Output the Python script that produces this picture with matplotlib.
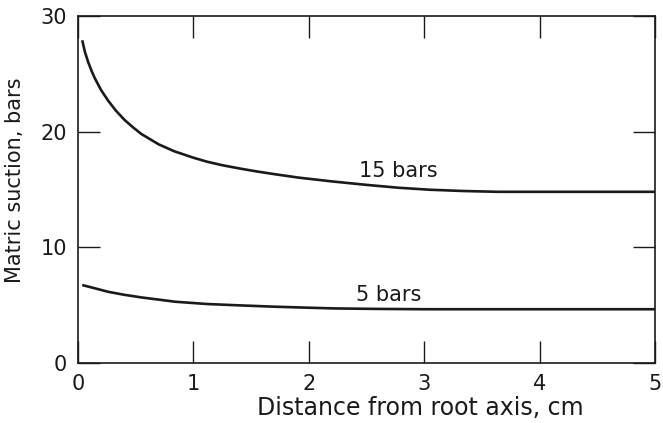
import matplotlib.pyplot as plt

plt.rcParams['font.family'] = ['DejaVu Sans']

# curves
dist15 = [0.037, 0.06, 0.089, 0.12, 0.147, 0.2, 0.26, 0.33, 0.405, 0.48, 0.549, 0.7, 0.836,
          1.0, 1.12, 1.25, 1.41, 1.55, 1.70, 1.91, 2.2, 2.5, 2.78, 3.05, 3.34, 3.64, 4.0, 4.5, 5.0]
suction15 = [27.9, 26.9, 26.0, 25.2, 24.6, 23.6, 22.7, 21.8, 21.0, 20.35, 19.8, 18.9, 18.3,
             17.75, 17.4, 17.1, 16.8, 16.56, 16.33, 16.03, 15.7, 15.4, 15.15, 14.98, 14.87, 14.8, 14.8, 14.8, 14.8]
dist5 = [0.037, 0.15, 0.26, 0.4, 0.55, 0.7, 0.84, 1.12, 1.41, 1.70, 2.0, 2.22, 2.56, 3.0, 4.0, 5.0]
suction5 = [6.74, 6.45, 6.16, 5.9, 5.67, 5.48, 5.3, 5.1, 4.98, 4.87, 4.78, 4.72, 4.68, 4.65, 4.65, 4.65]

xticks = [0, 1, 2, 3, 4, 5]
yticks = [0, 10, 20, 30]

ink = '#1a1a1a'

fig = plt.figure(figsize=(6.63, 4.23), dpi=100)
ax = fig.add_axes([0.1176, 0.1418, 0.8703, 0.8204])

ax.plot(dist15, suction15, color=ink, lw=1.9, solid_capstyle='butt', solid_joinstyle='round')
ax.plot(dist5, suction5, color=ink, lw=1.9, solid_capstyle='butt', solid_joinstyle='round')

ax.text(2.78, 16.1, '15 bars', fontsize=15, ha='center', va='baseline', color=ink)
ax.text(2.69, 5.4, '5 bars', fontsize=15, ha='center', va='baseline', color=ink)

ax.set_xlim(0, 5)
ax.set_ylim(0, 30)
ax.set_xticks(xticks)
ax.set_yticks(yticks)
ax.tick_params(direction='in', length=16, width=1.0, top=True, right=True,
               labelsize=15, colors=ink, pad=8)
for s in ax.spines.values():
    s.set_linewidth(1.2)
    s.set_color(ink)

ax.set_xlabel('Distance from root axis, cm', fontsize=17, color=ink)
ax.xaxis.set_label_coords(0.593, -0.095)
ax.set_ylabel('Matric suction, bars', fontsize=15, color=ink)
ax.yaxis.set_label_coords(-0.091, 0.527)

fig.savefig('out.png', dpi=100)
